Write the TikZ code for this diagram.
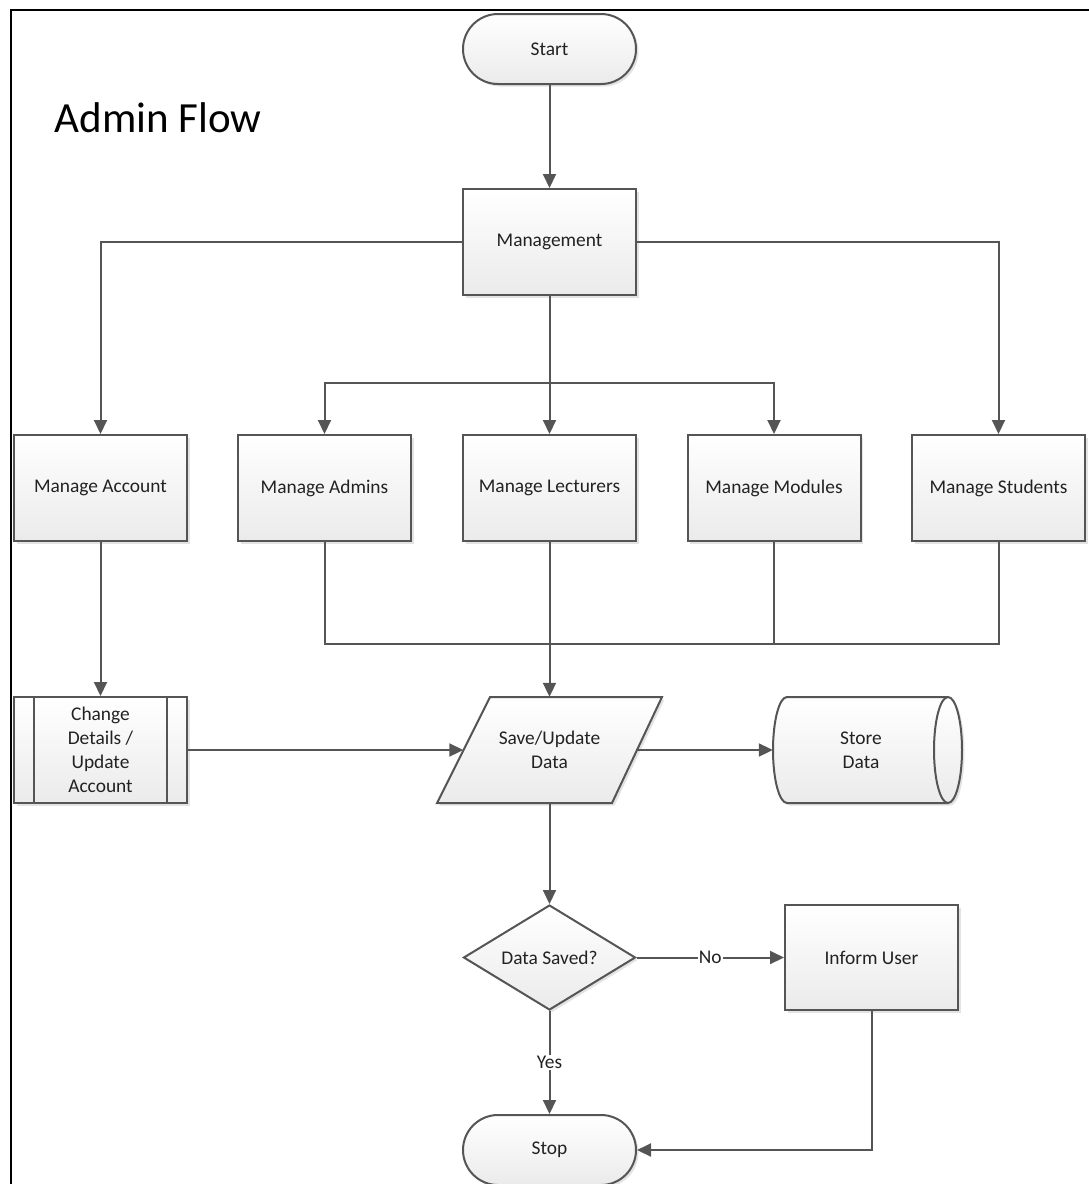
\documentclass[tikz,border=0pt]{standalone}
\usepackage{fontspec}
\setmainfont{Carlito}
\usetikzlibrary{arrows.meta,shapes.geometric,calc,shadows}

\definecolor{edge}{HTML}{555555}
\definecolor{ink}{HTML}{222222}

\begin{document}
\begin{tikzpicture}[x=1pt,y=-1pt,
  every node/.style={text=ink, font=\fontsize{19.4}{24}\selectfont},
  boxbase/.style={draw=edge, line width=2pt, top color=white, bottom color=black!8,
    drop shadow={shadow xshift=2.5pt, shadow yshift=-2.5pt, opacity=0.22}},
  procbox/.style={boxbase, rectangle, minimum width=173pt, minimum height=106pt,
    inner sep=0pt, align=center},
  termbox/.style={boxbase, rectangle, rounded corners=35pt, minimum width=173pt,
    minimum height=70pt, inner sep=0pt},
  decbox/.style={boxbase, diamond, minimum width=172pt, minimum height=105pt,
    inner sep=0pt, aspect=1.64},
  plainlabel/.style={rectangle, minimum width=#1, minimum height=106pt,
    inner sep=0pt, align=center},
  flow/.style={draw=edge, line width=2pt},
  arrow/.style={flow, -{Triangle[length=14pt,width=13pt]}},
  tag/.style={fill=white, inner sep=1pt}
]
\useasboundingbox (0,0) rectangle (1089,1184);

% outer frame
\draw[line width=2.2pt, black] (11,1200) -- (11,10) -- (1100,10);

% title
\node[anchor=west, text=black, font=\fontsize{43}{50}\selectfont] (title) at (51,118) {Admin Flow};

% terminals and main process
\node[termbox] (start) at (549.5,49) {Start};
\node[procbox] (mgmt) at (549.5,242) {Management};

% management branches
\node[procbox] (acct) at (100.5,488) {Manage Account};
\node[procbox] (adm)  at (324.5,488) {Manage Admins};
\node[procbox] (lect) at (549.5,488) {Manage Lecturers};
\node[procbox] (mod)  at (774,488)   {Manage Modules};
\node[procbox] (stud) at (998.5,488) {Manage Students};

% predefined process: change details
\node[procbox] (chg) at (100.5,750) {Change\\Details /\\Update\\Account};
\draw[flow] ($(chg.north west)+(21,0)$) -- ($(chg.south west)+(21,0)$);
\draw[flow] ($(chg.north east)+(-21,0)$) -- ($(chg.south east)+(-21,0)$);

% data (parallelogram)
\path[boxbase] (490,697) -- (662,697) -- (612,803) -- (437,803) -- cycle;
\node[plainlabel=172pt] (save) at (549.5,750) {Save/Update\\Data};

% stored data (horizontal cylinder)
\path[boxbase] (787,697) -- (948,697)
  arc[start angle=90, end angle=-90, x radius=14pt, y radius=53pt]
  -- (787,803)
  arc[start angle=-90, end angle=-270, x radius=14pt, y radius=53pt] -- cycle;
\draw[flow] (948,697) arc[start angle=90, end angle=270, x radius=14pt, y radius=53pt];
\node[plainlabel=176pt] (store) at (861,750) {Store\\Data};

% decision and outcomes
\node[decbox] (dec) at (549.5,957.5) {Data Saved?};
\node[procbox, minimum height=105pt] (inf) at (871.5,957.5) {Inform User};
\node[termbox] (stop) at (549.5,1150) {Stop};

% junction points
\coordinate (split) at (549.5,383);
\coordinate (merge) at (549.5,644);

% connectors
\draw[arrow] (start) -- (mgmt);
\draw[arrow] (mgmt.west) -| (acct.north);
\draw[arrow] (mgmt.east) -| (stud.north);
\draw[arrow] (mgmt.south) -- (lect.north);
\draw[arrow] (split) -| (adm.north);
\draw[arrow] (split) -| (mod.north);

\draw[flow] (adm.south) |- (merge);
\draw[flow] (mod.south) |- (merge);
\draw[flow] (stud.south) |- (merge);
\draw[arrow] (lect.south) -- (save.north);

\draw[arrow] (acct.south) -- (chg.north);
\draw[arrow] (chg.east) -- (save.west);
\draw[arrow] (save.east) -- (store.west);
\draw[arrow] (save.south) -- (dec.north);

\draw[arrow] (dec.east) -- node[tag] {No} (inf.west);
\draw[arrow] (dec.south) -- node[tag] {Yes} (stop.north);
\draw[arrow] (inf.south) |- (stop.east);
\end{tikzpicture}
\end{document}
